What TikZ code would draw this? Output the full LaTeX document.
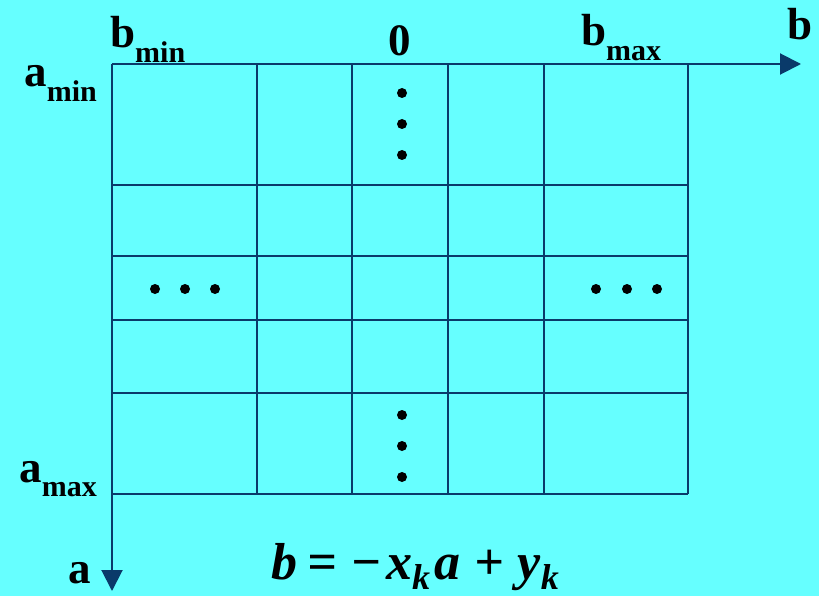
\documentclass[tikz,border=0pt]{standalone}
\usepackage{fontspec}
\setmainfont{Liberation Serif}
\usetikzlibrary{arrows.meta}
\definecolor{bgc}{HTML}{66FFFF}
\definecolor{lnc}{HTML}{0A3A6A}
\newcommand{\mysub}[2]{#1\raisebox{-0.32em}{\fontsize{30}{30}\selectfont #2}}
\newcommand{\eqsub}[1]{\raisebox{-10pt}{\fontsize{36}{36}\selectfont #1}}
\tikzset{
  gridline/.style={draw=lnc, line width=2pt},
  axisline/.style={draw=lnc, line width=2pt, -{Triangle[length=21pt,width=21pt]}},
  lbl/.style={inner sep=0pt, font=\fontsize{45}{45}\selectfont\bfseries},
  dotmark/.style={circle, fill=black, inner sep=0pt, minimum size=10pt}
}
\begin{document}
\begin{tikzpicture}[x=1pt,y=-1pt]
\fill[bgc] (0,0) rectangle (819,596);
\useasboundingbox (0,0) rectangle (819,596);
% grid coordinates
\coordinate (o) at (112,64);
\coordinate (bend) at (801,64);
\coordinate (aend) at (112,591);
% horizontal lines
\foreach \y [count=\i] in {185,256,320,393,494} {
  \coordinate (hl\i) at (112,\y);
  \coordinate (hr\i) at (688,\y);
  \draw[gridline] (hl\i) -- (hr\i);
}
% vertical lines
\foreach \x [count=\i] in {257,352,448,544,688} {
  \coordinate (vt\i) at (\x,64);
  \coordinate (vb\i) at (\x,494);
  \draw[gridline] (vt\i) -- (vb\i);
}
% axes
\draw[axisline] (o) -- (bend);
\draw[axisline] (o) -- (aend);
% labels
\node[lbl, anchor=base west] (bmin) at (110,48) {\mysub{b}{min}};
\node[lbl, anchor=base] (zero) at (400,56) {0};
\node[lbl, anchor=base west] (bmax) at (581,46) {\mysub{b}{max}};
\node[lbl, anchor=base] (blab) at (800,40) {b};
\node[lbl, anchor=base east] (amin) at (97,87) {\mysub{a}{min}};
\node[lbl, anchor=base east] (amax) at (97,482) {\mysub{a}{max}};
\node[lbl, anchor=base] (alab) at (80,583) {a};
% dots
\foreach \y [count=\i] in {93,124,155} {\node[dotmark] (dt\i) at (402,\y) {};}
\foreach \y [count=\i] in {415,446,477} {\node[dotmark] (db\i) at (402,\y) {};}
\foreach \x [count=\i] in {155,185,215} {\node[dotmark] (dl\i) at (\x,289) {};}
\foreach \x [count=\i] in {596,627,657} {\node[dotmark] (dr\i) at (\x,289) {};}
% equation
\node[inner sep=0pt, anchor=base, font=\fontsize{52}{52}\selectfont\bfseries\itshape] (eq) at (415,579)
  {b\hspace{10pt}=\hspace{14pt}−\hspace{4pt}x\eqsub{k}\hspace{4pt}a\hspace{14pt}+\hspace{14pt}y\eqsub{k}};
\end{tikzpicture}
\end{document}
